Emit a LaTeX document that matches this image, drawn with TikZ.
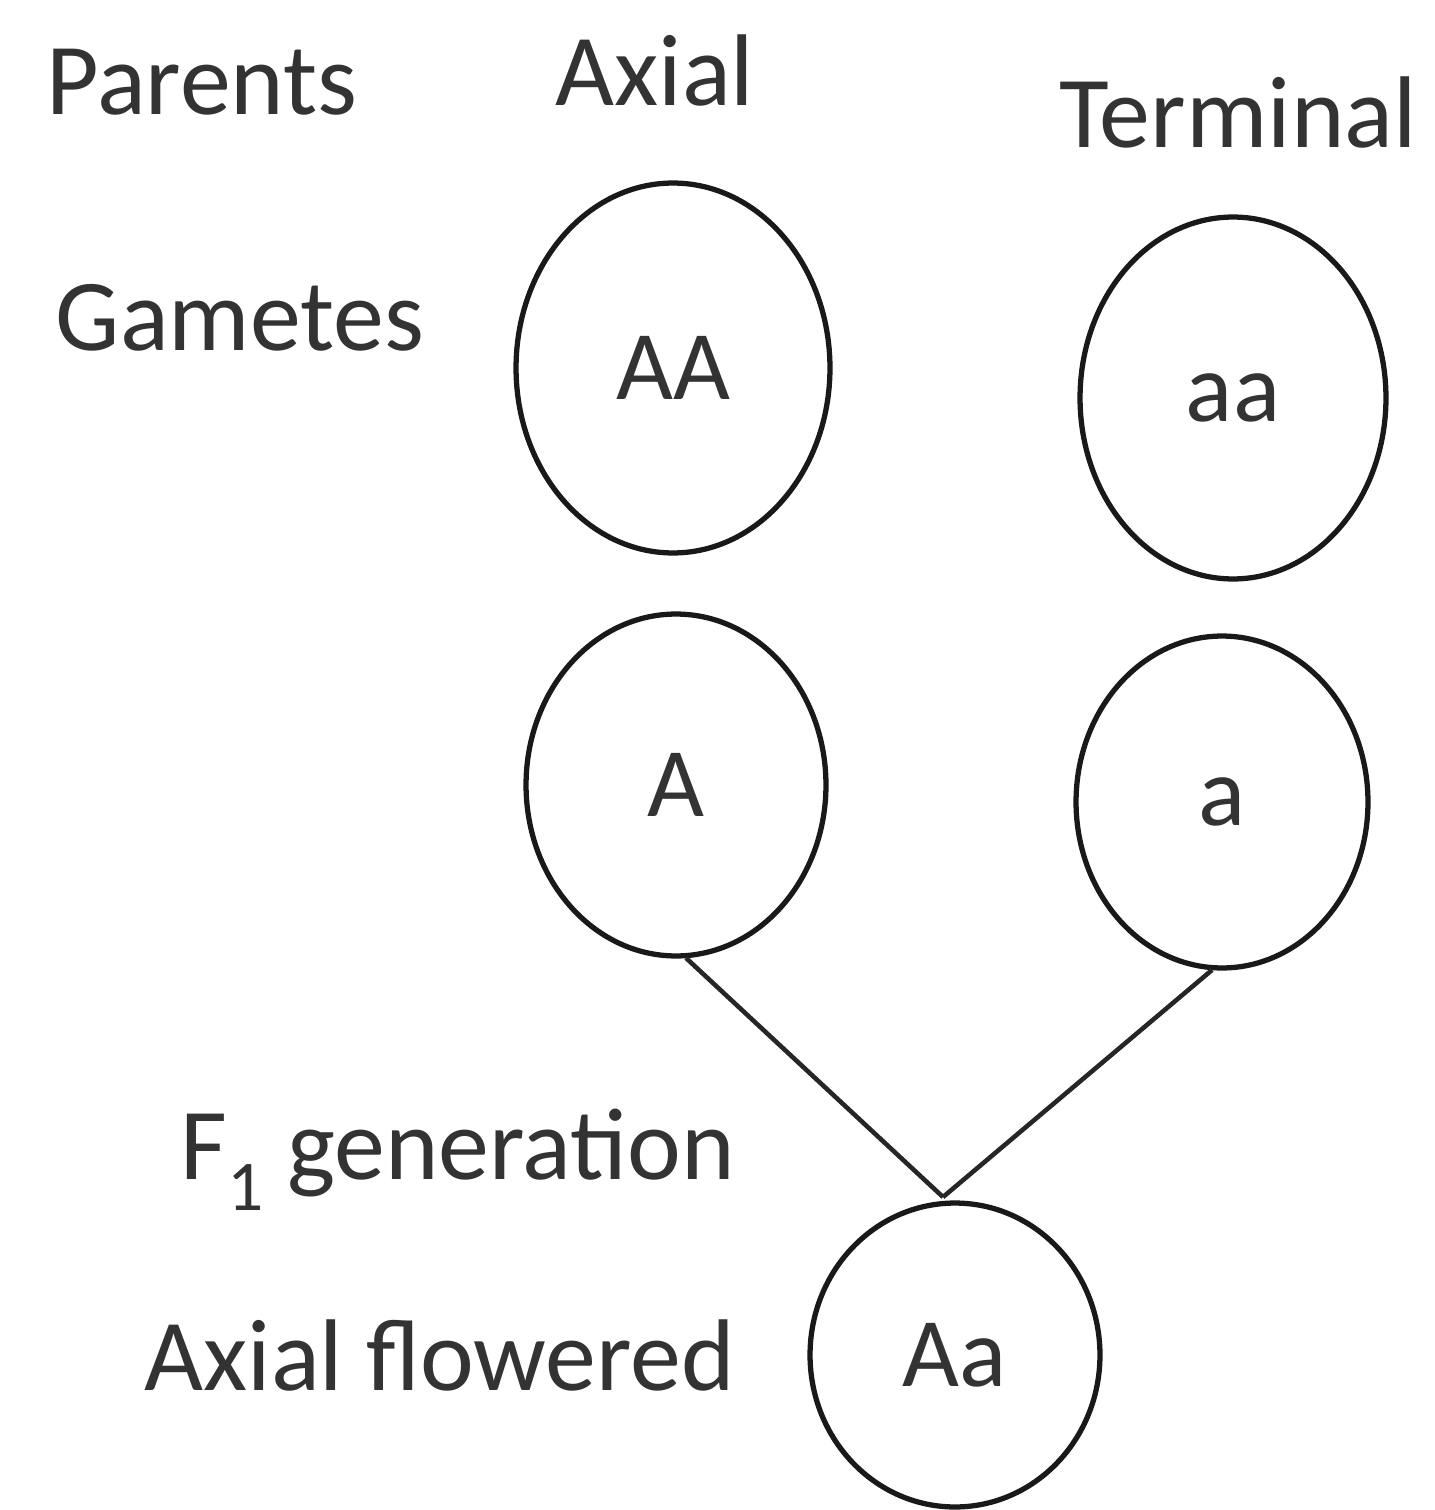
\documentclass[tikz,border=0pt]{standalone}
\usepackage{fontspec}
\setmainfont{Carlito}
\usetikzlibrary{shapes.geometric}
\begin{document}
\begin{tikzpicture}[x=0.02cm,y=-0.02cm,
  lbl/.style={text=black!80,font=\fontsize{58}{60}\selectfont,inner sep=0pt},
  gene/.style={ellipse,draw=black!90,line width=3pt,text=black!80,font=\fontsize{56}{58}\selectfont,inner sep=0pt,outer sep=0pt},
  link/.style={draw=black!85,line width=2.6pt}]
\useasboundingbox (0,0) rectangle (1434,1510);
\node[lbl] (parents) at (202,82) {Parents};
\node[lbl] (axial) at (655,70) {Axial};
\node[lbl] (terminal) at (1238,112) {Terminal};
\node[lbl] (gametes) at (240,318) {Gametes};
\node[lbl,anchor=east] (f1) at (735,1160) {F\textsubscript{1} generation};
\node[lbl,anchor=east] (axfl) at (735,1355) {Axial flowered};
\node[gene,minimum width=6.28cm,minimum height=7.4cm] (AA) at (673,368) {AA};
\node[gene,minimum width=6.12cm,minimum height=7.24cm] (aa) at (1233,398) {aa};
\node[gene,minimum width=6.0cm,minimum height=6.84cm] (A) at (676,785) {A};
\node[gene,minimum width=5.84cm,minimum height=6.64cm] (a) at (1222,802) {a};
\node[gene,minimum width=5.8cm,minimum height=6.08cm] (Aa) at (955,1355) {Aa};
\coordinate (meet) at ([xshift=-0.24cm,yshift=0.12cm]Aa.north);
\draw[link] ([xshift=0.2cm,yshift=-0.04cm]A.south) -- (meet);
\draw[link] ([xshift=-0.2cm,yshift=-0.04cm]a.south) -- (meet);
\end{tikzpicture}
\end{document}
